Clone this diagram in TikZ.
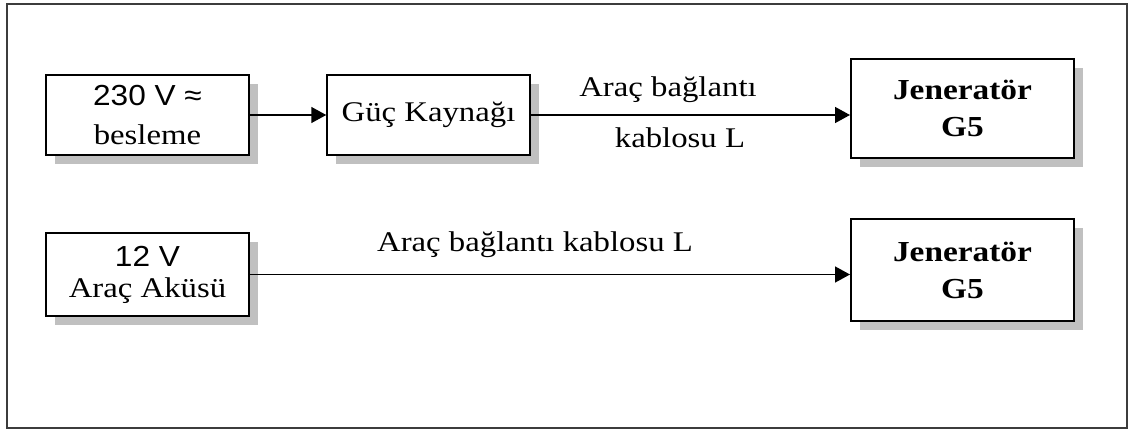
\documentclass[tikz,border=0pt]{standalone}
\usepackage{fontspec}
\setmainfont{Liberation Serif}[FakeStretch=1.15]
\newfontfamily\arialf{Liberation Sans}[FakeStretch=1.09]
\usetikzlibrary{shadows,arrows.meta}
\definecolor{shadowgray}{RGB}{192,192,192}
\definecolor{framegray}{RGB}{60,60,60}
\tikzset{
  blk/.style={draw=black, line width=1.5pt, fill=white, inner sep=0pt, align=center,
    drop shadow={shadow xshift=9pt, shadow yshift=-9pt, fill=shadowgray, opacity=1}},
  genblk/.style={blk, line width=2pt, font=\fontsize{29}{37}\selectfont\bfseries},
  txt/.style={font=\fontsize{28.5}{39}\selectfont},
  lbl/.style={inner sep=0pt, anchor=base, font=\fontsize{28.5}{39}\selectfont},
  conn/.style={line width=1.5pt, -{Triangle[length=15pt,width=16pt]}},
}
\begin{document}
\begin{tikzpicture}[x=1pt,y=-1pt]
\useasboundingbox (0,0) rectangle (1140,430);
\draw[framegray, line width=1.5pt] (7,4) rectangle (1127,428);
% row 1
\node[blk, txt, minimum width=203pt, minimum height=80pt] (b1) at (147.5,115)
  {{\arialf\fontsize{29}{39}\selectfont 230 V ≈}\\besleme};
\node[blk, txt, minimum width=203pt, minimum height=80pt] (b2) at (428.5,115) {Güç Kaynağı};
\node[genblk, minimum width=223pt, minimum height=99pt] (g1) at (962.5,108.5) {Jeneratör\\G5};
\draw[conn] (b1.east) -- (b2.west);
\draw[conn] (b2.east) -- (b2.east -| g1.west);
\node[lbl] (l1) at (668,97) {Araç bağlantı};
\node[lbl] (l2) at (680,148) {kablosu L};
% row 2
\node[blk, minimum width=203pt, minimum height=83pt, font=\fontsize{28.5}{31}\selectfont] (b3) at (147.5,274.5)
  {{\arialf\fontsize{29}{31}\selectfont 12 V}\\Araç Akü\-sü};
\node[genblk, minimum width=223pt, minimum height=102pt] (g2) at (962.5,270) {Jeneratör\\G5};
\draw[conn] (b3.east) -- (b3.east -| g2.west);
\node[lbl] (l3) at (535,252) {Araç bağlantı kablosu L};
\end{tikzpicture}
\end{document}
